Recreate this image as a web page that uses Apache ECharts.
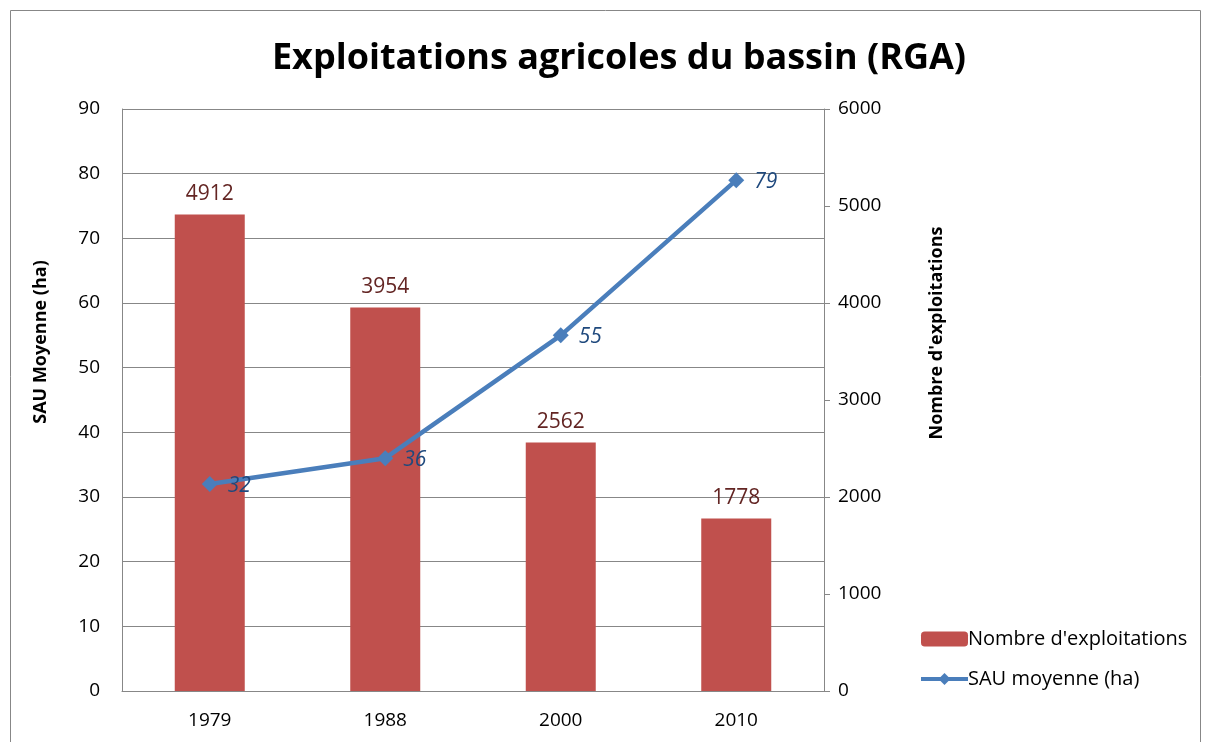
<!DOCTYPE html>
<html>
<head>
<meta charset="utf-8">
<script src="https://cdn.jsdelivr.net/npm/echarts@6/dist/echarts.min.js"></script>
<style>
  html, body { margin: 0; padding: 0; background: #fff; }
  #chart { width: 1205px; height: 742px; }
</style>
</head>
<body>
<div id="chart"></div>
<script>
// données
var annees = ['1979', '1988', '2000', '2010'];
var nbExploitations = [4912, 3954, 2562, 1778];
var sauMoyenne = [32, 36, 55, 79];

var police = '"Open Sans", "Liberation Sans", sans-serif';

var chart = echarts.init(document.getElementById('chart'));

var option = {
    animation: false,
    textStyle: { fontFamily: police },
    title: {
        text: 'Exploitations agricoles du bassin (RGA)',
        left: 614,
        top: 36,
        textAlign: 'center',
        textStyle: { fontSize: 36, fontWeight: 'bold', color: '#000', fontFamily: police }
    },
    // cadre du graphique
    graphic: [{
        type: 'rect',
        shape: { x: 10.5, y: 10.5, width: 1190, height: 760 },
        style: { fill: 'none', stroke: '#878787', lineWidth: 1 },
        silent: true
    }],
    legend: {
        orient: 'vertical',
        left: 914,
        top: 624,
        itemWidth: 47,
        itemHeight: 15,
        itemGap: 20,
        textStyle: { fontSize: 20, color: '#000', padding: [0, 0, 0, -5] },
        data: [
            { name: "Nombre d'exploitations" },
            { name: 'SAU moyenne (ha)', lineStyle: { width: 4 } }
        ]
    },
    grid: { left: 122, right: 381, top: 109, bottom: 51 },
    xAxis: {
        type: 'category',
        data: annees,
        axisLine: { show: true, lineStyle: { color: '#878787' } },
        axisTick: { show: false },
        axisLabel: { fontSize: 19, color: '#000', margin: 20 }
    },
    yAxis: [
        {
            type: 'value',
            min: 0, max: 90, interval: 10,
            name: 'SAU Moyenne (ha)',
            nameLocation: 'middle',
            nameRotate: 90,
            nameGap: 72,
            // décalé vers le haut comme dans Excel
            nameTextStyle: { fontSize: 18, fontWeight: 'bold', color: '#000', padding: [0, 0, 0, 116] },
            axisLine: { show: true, lineStyle: { color: '#878787' } },
            axisTick: { show: false },
            axisLabel: { fontSize: 19, color: '#000', margin: 22 },
            splitLine: { lineStyle: { color: '#878787' } }
        },
        {
            type: 'value',
            min: 0, max: 6000, interval: 1000,
            name: "Nombre d'exploitations",
            nameLocation: 'middle',
            nameRotate: 90,
            nameGap: 104,
            nameTextStyle: { fontSize: 18, fontWeight: 'bold', color: '#000', padding: [0, 0, 0, 134] },
            axisLine: { show: true, lineStyle: { color: '#878787' } },
            axisTick: { show: true, length: 6, lineStyle: { color: '#878787' } },
            axisLabel: {
                fontSize: 19, color: '#000', margin: 14,
                formatter: function (v) { return String(v); }
            },
            splitLine: { show: false }
        }
    ],
    series: [
        {
            name: "Nombre d'exploitations",
            type: 'bar',
            yAxisIndex: 1,
            data: nbExploitations,
            barWidth: 70,
            itemStyle: { color: '#C0504D' },
            label: {
                show: true,
                position: 'top',
                distance: 10,
                fontSize: 21,
                color: '#632523'
            }
        },
        {
            name: 'SAU moyenne (ha)',
            type: 'line',
            yAxisIndex: 0,
            data: sauMoyenne,
            symbol: 'diamond',
            symbolSize: 16,
            lineStyle: { width: 4.5, color: '#4A7EBB' },
            itemStyle: { color: '#4A7EBB' },
            label: {
                show: true,
                position: 'right',
                distance: 10,
                offset: [0, 2],
                fontSize: 21,
                fontStyle: 'italic',
                color: '#1F497D'
            },
            z: 3
        }
    ]
};

chart.setOption(option);
window.addEventListener('resize', chart.resize);
</script>
</body>
</html>
